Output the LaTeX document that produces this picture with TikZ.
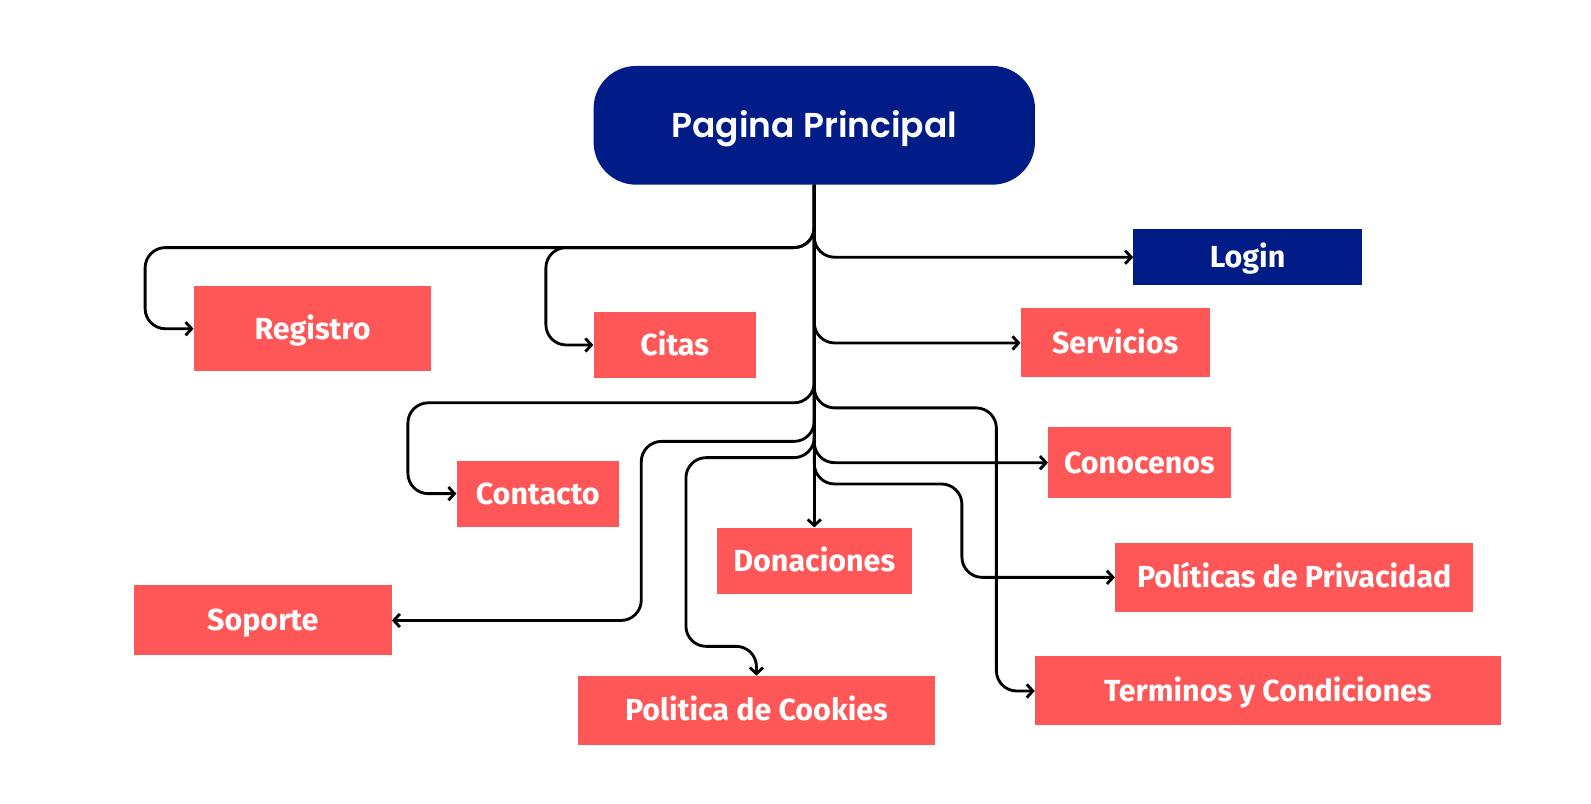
\documentclass[tikz,border=0pt]{standalone}
\usepackage{fontspec}
\setmainfont{Fira Sans}
\newfontfamily\titlefont{Poppins SemiBold}
\usetikzlibrary{arrows.meta}
\definecolor{navy}{HTML}{001C86}
\definecolor{salmon}{HTML}{FF5757}
\begin{document}
\begin{tikzpicture}[x=1pt,y=-1pt,
  box/.style={fill=salmon, text=white, inner sep=0pt, anchor=center,
    text height=20.5pt, text depth=0pt,
    font=\fontsize{30}{34}\selectfont\bfseries},
  navybox/.style={box, fill=navy},
  headbox/.style={fill=navy, text=white, inner sep=0pt, rounded corners=42pt,
    text height=23.5pt, text depth=0pt,
    font=\titlefont\fontsize{34}{38}\selectfont},
  conn/.style={line width=2.8pt, rounded corners=20pt,
    -{Straight Barb[length=6pt,width=13pt]}}]
\useasboundingbox (0,0) rectangle (1568,792);
\fill[white] (0,0) rectangle (1568,792);
\node[headbox, minimum width=435pt, minimum height=117pt] (head) at (802.5,123.5) {Pagina Principal};
\node[navybox, minimum width=225pt, minimum height=55pt] (login) at (1229.5,253.5) {Login};
\node[box, minimum width=234pt, minimum height=84pt] (reg) at (308,324) {Registro};
\node[box, minimum width=160pt, minimum height=66pt] (citas) at (665,340) {Citas};
\node[box, minimum width=186pt, minimum height=68pt] (serv) at (1099,338) {Servicios};
\node[box, minimum width=160pt, minimum height=65pt] (cont) at (530,486.5) {Contacto};
\node[box, minimum width=180pt, minimum height=70pt] (cono) at (1123,456) {Conocenos};
\node[box, minimum width=192pt, minimum height=65pt] (don) at (802.5,552.5) {Donaciones};
\node[box, minimum width=353pt, minimum height=68pt] (priv) at (1275.5,569) {Políticas de Privacidad};
\node[box, minimum width=254pt, minimum height=69pt] (sop) at (259,611.5) {Soporte};
\node[box, minimum width=351pt, minimum height=68pt] (cook) at (745.5,700) {Politica de Cookies};
\node[box, minimum width=459pt, minimum height=68pt] (term) at (1249.5,681) {Terminos y Condiciones};
\coordinate (regturn) at (143,244);
\coordinate (citasturn) at (538,244);
\coordinate (contturn) at (402,397);
\coordinate (termturn) at (982,402);
\coordinate (sopturn) at (632,435);
\coordinate (cookturn) at (676,451);
\coordinate (cookdrop) at (745.5,637);
\coordinate (privturn) at (948,477);
\draw[conn] (head.south) -- (don.north);
\draw[conn] (head.south) |- (regturn) |- (reg.west);
\draw[conn] (head.south) |- (citasturn) |- (citas.west);
\draw[conn] (head.south) |- (login.west);
\draw[conn] (head.south) |- (serv.west);
\draw[conn] (head.south) |- (contturn) |- (cont.west);
\draw[conn] (head.south) |- (termturn) |- (term.west);
\draw[conn] (head.south) |- (sopturn) |- (sop.east);
\draw[conn] (head.south) |- (cookturn) |- (cookdrop) -- (cook.north);
\draw[conn] (head.south) |- (cono.west);
\draw[conn] (head.south) |- (privturn) |- (priv.west);
\end{tikzpicture}
\end{document}
